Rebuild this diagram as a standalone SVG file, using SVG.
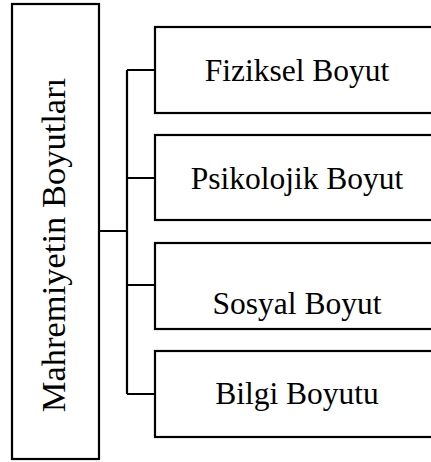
<svg xmlns="http://www.w3.org/2000/svg" width="431" height="462" viewBox="0 0 431 462">
<style>
.box{fill:#fff;stroke:#000;stroke-width:2.2}
.lbl{font-family:"Liberation Serif","Times New Roman",serif;font-size:31.5px;fill:#000;text-anchor:middle}
.conn{fill:none;stroke:#000;stroke-width:2.2}
</style>
<rect width="431" height="462" fill="#fff"/>
<g id="connectors">
<path class="conn" d="M99 231H127M127 70V394M127 70H155M127 178H155M127 285H155M127 394H155"/>
</g>
<g id="root">
<rect class="box" x="12" y="4" width="87" height="455"/>
<text class="lbl" style="font-size:34.5px" transform="translate(65 245) rotate(-90)" x="0" y="0">Mahremiyetin Boyutları</text>
</g>
<g id="fiziksel">
<rect class="box" x="155" y="27" width="290" height="86"/>
<text class="lbl" x="297" y="81">Fiziksel Boyut</text>
</g>
<g id="psikolojik">
<rect class="box" x="155" y="135" width="290" height="85"/>
<text class="lbl" x="297" y="189">Psikolojik Boyut</text>
</g>
<g id="sosyal">
<rect class="box" x="155" y="243" width="290" height="86"/>
<text class="lbl" x="297" y="314">Sosyal Boyut</text>
</g>
<g id="bilgi">
<rect class="box" x="155" y="351" width="290" height="86"/>
<text class="lbl" x="297" y="404">Bilgi Boyutu</text>
</g>
</svg>
